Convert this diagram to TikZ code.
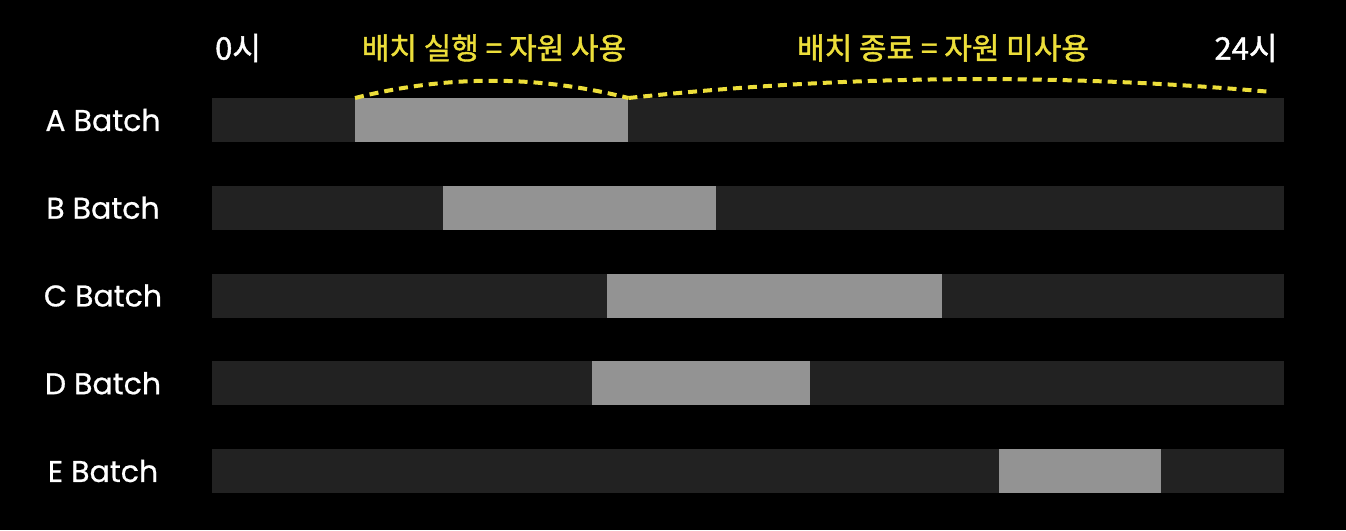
\documentclass[tikz,border=0pt]{standalone}
\usepackage{fontspec}
\setmainfont{Noto Sans CJK KR}[FakeBold=1.4]
\newfontfamily\latinfont{Poppins}[FakeBold=0.6]
\definecolor{idlegray}{RGB}{34,34,34}
\definecolor{rungray}{RGB}{147,147,147}
\definecolor{noteyellow}{RGB}{236,222,58}
\tikzset{
  rowlabel/.style={text=white, font=\latinfont\fontsize{30}{30}\selectfont},
  hourlabel/.style={text=white, font=\fontsize{31}{31}\selectfont},
  note/.style={text=noteyellow, font=\fontsize{30}{30}\selectfont},
  idlebar/.style={fill=idlegray, inner sep=0pt, minimum width=1072pt, minimum height=44pt, anchor=north west},
  runbar/.style={fill=rungray, inner sep=0pt, minimum height=44pt, anchor=north west},
  dashline/.style={draw=noteyellow, line width=4pt, dash pattern=on 9pt off 6pt}
}
\begin{document}
\begin{tikzpicture}[x=1pt, y=-1pt]
  \fill[black] (0,0) rectangle (1346,530);
  % rows: name / row / run start / run end
  \foreach \name/\row/\s/\e in {A/0/355/628, B/1/443/716, C/2/607/942, D/3/592/810, E/4/999/1161} {
    \pgfmathsetmacro\top{98+87.75*\row}
    \pgfmathsetmacro\len{\e-\s}
    \node (bar\name) [idlebar] at (212,\top) {};
    \node (run\name) [runbar, minimum width=\len pt] at (\s,\top) {};
    \node (lbl\name) [rowlabel] at (103,\top+22) {\name\ Batch};
  }
  \node (h0) [hourlabel] at (238,48) {0시};
  \node (h24) [hourlabel] at (1246,48) {24시};
  \node (runnote) [note] at (494,48) {배치 실행 = 자원 사용};
  \node (idlenote) [note] at (943,48) {배치 종료 = 자원 미사용};
  \coordinate (dayend) at (1272,92);
  \draw[dashline] (runA.north west) .. controls +(91,-23) and +(-91,-23) .. (runA.north east);
  \draw[dashline] (runA.north east) .. controls +(215,-23) and +(-215,-19) .. (dayend);
\end{tikzpicture}
\end{document}
